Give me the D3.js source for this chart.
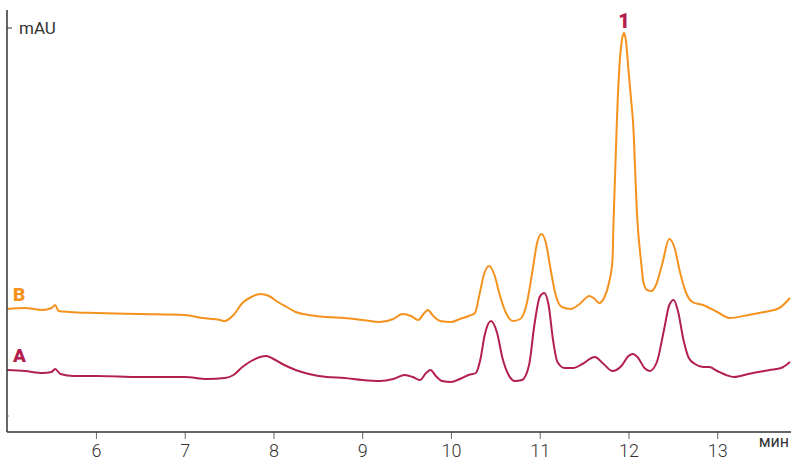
<!DOCTYPE html>
<html>
<head>
<meta charset="utf-8">
<script src="https://cdn.jsdelivr.net/npm/d3@7/dist/d3.min.js"></script>
<style>
  html, body { margin: 0; padding: 0; background: #fff; }
  svg { display: block; }
</style>
</head>
<body>
<svg id="chart" width="791" height="462"></svg>
<script>
// Chromatogram: two runs (A, B), time in minutes, signal in mAU
const xTicks = [6, 7, 8, 9, 10, 11, 12, 13];
const xUnit = "мин";
const yUnit = "mAU";
const peakLabel = { t: 11.95, v: 99.75, text: "1" };

// Run B: [time, mAU]
const timeB = [5.00,5.20,5.40,5.50,5.54,5.58,5.70,6.00,6.50,7.00,7.20,7.40,7.45,7.55,7.65,7.75,7.85,7.95,8.05,8.15,8.25,8.40,8.60,8.80,9.00,9.20,9.35,9.45,9.55,9.63,9.70,9.74,9.80,9.88,10.00,10.10,10.20,10.27,10.32,10.37,10.43,10.49,10.55,10.62,10.70,10.78,10.85,10.92,10.97,11.02,11.07,11.12,11.18,11.25,11.35,11.45,11.56,11.62,11.67,11.73,11.78,11.82,11.83,11.85,11.87,11.90,11.93,11.95,11.97,12.00,12.03,12.05,12.10,12.14,12.17,12.21,12.26,12.31,12.38,12.46,12.52,12.58,12.65,12.72,12.84,13.00,13.14,13.35,13.53,13.70,13.82];
const valuesB = [30.75,31,30.5,31,31.75,30.25,30,29.75,29.5,29.25,28.5,28,27.75,29.25,32.25,33.75,34.5,34,32.5,31.25,30,29.25,28.75,28.5,28,27.5,28.25,29.5,29,28,29.75,30.5,29,27.75,27.5,28.25,29,29.75,34.25,39.25,41.5,39.25,34.25,29.75,27.75,28.25,31.75,40.5,47.25,49.5,47.25,41,34.25,31.25,30.75,32,34,33.25,32.25,33.75,37.25,43,51.25,64.75,78,92,98.5,99.75,98,90.5,83,78,53,43,37.25,35.5,35.25,36.75,42,48.25,46,40,34.75,32.5,31.75,30,28.5,29.25,30,31,33.5];

// Run A: [time, mAU]
const timeA = [5.00,5.20,5.40,5.50,5.54,5.60,5.75,6.00,6.50,7.00,7.25,7.45,7.55,7.65,7.75,7.85,7.92,8.00,8.10,8.25,8.40,8.60,8.80,9.00,9.20,9.35,9.48,9.57,9.65,9.72,9.77,9.83,9.90,10.00,10.10,10.20,10.28,10.33,10.38,10.45,10.52,10.58,10.65,10.72,10.80,10.88,10.94,11.00,11.05,11.10,11.15,11.20,11.28,11.38,11.48,11.62,11.72,11.82,11.92,12.00,12.05,12.11,12.18,12.24,12.32,12.40,12.46,12.51,12.56,12.62,12.68,12.75,12.84,12.91,13.00,13.10,13.19,13.35,13.59,13.72,13.82];
const valuesA = [15.5,15.25,14.75,15,15.75,14.5,14,14,13.75,13.75,13.25,13.5,14.25,16.25,17.75,18.75,19,18.25,17,15.5,14.5,13.75,13.5,13,12.75,13.25,14.25,13.75,13,14.75,15.5,14,12.75,12.5,13.25,14.25,14.75,18,24.25,27.75,24.75,18.5,14.25,12.75,13,16.75,26.75,33.75,34.75,31.75,23,17.5,16,16,17,18.75,17,15.25,16.5,19,19.5,18.5,16,15.25,17.5,25.5,31.75,33,30,23,18.5,17,16.25,16.25,15.25,14.25,13.75,14.5,15.5,16,17.5];

const series = [
  { name: "B", color: "#F5921E", t: timeB, v: valuesB },
  { name: "A", color: "#B3204C", t: timeA, v: valuesA }
];

const svg = d3.select("#chart");
const x = d3.scaleLinear().domain([5, 13.82]).range([7.2, 790]);
const y = d3.scaleLinear().domain([0, 105.5]).range([432, 10]);
const axisColor = "#333";

// Traces
const line = d3.line()
  .x(d => x(d[0]))
  .y(d => y(d[1]))
  .curve(d3.curveMonotoneX);

series.forEach(s => {
  const pts = s.t.map((t, i) => [t, s.v[i]]);
  svg.append("path")
    .datum(pts)
    .attr("fill", "none")
    .attr("stroke", s.color)
    .attr("stroke-width", 2)
    .attr("stroke-linejoin", "round")
    .attr("d", line);
  // Run letter at the left end of each trace
  svg.append("text")
    .attr("x", 13)
    .attr("y", y(s.v[0]) - 8)
    .attr("font-family", "Roboto, sans-serif")
    .attr("font-weight", "900")
    .attr("font-size", 19)
    .attr("fill", s.color)
    .text(s.name);
});

// Peak number
svg.append("text")
  .attr("x", x(peakLabel.t))
  .attr("y", y(peakLabel.v) - 5)
  .attr("text-anchor", "middle")
  .attr("font-family", "Roboto, sans-serif")
  .attr("font-weight", "900")
  .attr("font-size", 20)
  .attr("fill", "#B3204C")
  .text(peakLabel.text);

// Time axis
const xAxis = d3.axisBottom(x)
  .tickValues(xTicks)
  .tickFormat(d3.format("d"))
  .tickSize(7)
  .tickPadding(5);
const gx = svg.append("g")
  .attr("transform", "translate(0,432)")
  .call(xAxis);
gx.select(".domain").remove();
gx.append("line")
  .attr("x1", 7).attr("x2", 791)
  .attr("y1", 0).attr("y2", 0)
  .attr("stroke", axisColor).attr("stroke-width", 1.5);
gx.selectAll(".tick line").attr("stroke", "#666").attr("stroke-width", 1);
gx.selectAll(".tick text")
  .attr("font-family", "Roboto, sans-serif")
  .attr("font-weight", "300")
  .attr("font-size", 18)
  .attr("fill", axisColor);

svg.append("text")
  .attr("x", 789)
  .attr("y", 447)
  .attr("text-anchor", "end")
  .attr("font-family", "Roboto, sans-serif")
  .attr("font-size", 16)
  .attr("fill", axisColor)
  .text(xUnit);

// Signal axis
svg.append("line")
  .attr("x1", 7).attr("x2", 7)
  .attr("y1", 10).attr("y2", 432)
  .attr("stroke", axisColor).attr("stroke-width", 1.5);
svg.append("line")
  .attr("x1", 7).attr("x2", 12)
  .attr("y1", 28).attr("y2", 28)
  .attr("stroke", axisColor).attr("stroke-width", 1);
svg.append("line")
  .attr("x1", 7).attr("x2", 9)
  .attr("y1", 416).attr("y2", 416)
  .attr("stroke", "#888").attr("stroke-width", 1);
svg.append("text")
  .attr("x", 19)
  .attr("y", 34)
  .attr("font-family", "Roboto, sans-serif")
  .attr("font-size", 17)
  .attr("fill", axisColor)
  .text(yUnit);
</script>
</body>
</html>
